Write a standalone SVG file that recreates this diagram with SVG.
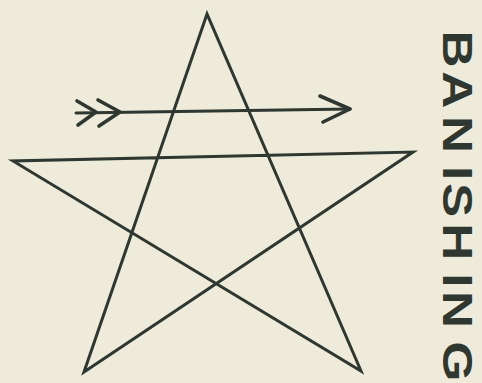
<svg xmlns="http://www.w3.org/2000/svg" width="482" height="383" viewBox="0 0 482 383">
<style>
.ink{fill:none;stroke:#2f3830;stroke-width:3;stroke-linejoin:miter;stroke-miterlimit:20;stroke-linecap:round}
.arw{fill:none;stroke:#2f3830;stroke-width:3.6;stroke-linejoin:round;stroke-linecap:round}
.lbl{font-family:"Liberation Sans","DejaVu Sans",Arial,sans-serif;font-weight:bold;font-size:42px;fill:#2f3830}
</style>
<rect width="482" height="383" fill="#eeebdb"/>
<g id="pentagram">
<path class="ink" d="M207,14 L84,372 L413,152 L13,161 L361,371 Z"/>
</g>
<g id="arrow">
<path class="ink" d="M76,113 L350,109"/>
<path class="arw" d="M320,96 L350,109 L323,122"/>
<path class="arw" d="M77,101 L96,112 L78,125 M98,100 L120,112 L99,126"/>
</g>
<g id="label">
<text class="lbl" transform="translate(443,0) rotate(90) scale(1.22,1)"><tspan x="25">B</tspan><tspan x="58.5">A</tspan><tspan x="95">N</tspan><tspan x="136">I</tspan><tspan x="150">S</tspan><tspan x="183">H</tspan><tspan x="224">I</tspan><tspan x="238.5">N</tspan><tspan x="280">G</tspan></text>
</g>
</svg>
